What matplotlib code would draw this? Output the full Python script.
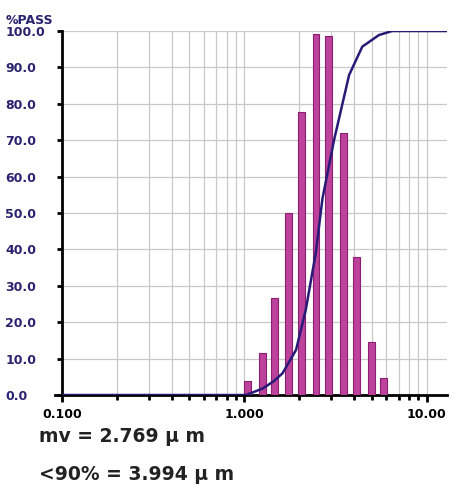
import numpy as np
import matplotlib
matplotlib.use('Agg')
import matplotlib.pyplot as plt
from matplotlib.ticker import FixedLocator, NullFormatter

# channel centres (um) and relative volume (% of max channel)
taille = [1.04, 1.25, 1.46, 1.75, 2.06, 2.47, 2.90, 3.50, 4.12, 4.95, 5.82]
volume = [3.9, 11.6, 26.6, 49.9, 77.7, 99.3, 98.6, 72.0, 37.8, 14.7, 4.6]

# cumulative % passing
taille_cum = [0.1, 1.02, 1.26, 1.45, 1.62, 1.92, 2.17, 2.46, 2.68, 3.10, 3.75, 4.43, 5.47, 6.46, 12.9]
passe_cum = [0.0, 0.0, 1.8, 3.8, 6.0, 12.4, 23.4, 38.9, 54.0, 70.0, 87.9, 95.7, 98.9, 100.0, 100.0]

etiquettes_y = ['0.0', '10.0', '20.0', '30.0', '40.0', '50.0', '60.0', '70.0', '80.0', '90.0', '100.0']

bleu = '#2b2170'
rose = '#bc429c'

fig = plt.figure(figsize=(4.57, 4.97), dpi=100)
ax = fig.add_axes([0.1357, 0.2052, 0.8423, 0.7324])
ax.set_xscale('log')
ax.set_xlim(0.1, 12.9)
ax.set_ylim(0, 100)

# bars with constant width in log space
demi = 0.019
gauche = [t * 10 ** (-demi) for t in taille]
largeur = [t * 10 ** demi - t * 10 ** (-demi) for t in taille]
ax.bar(gauche, volume, width=largeur, align='edge', color=rose,
       edgecolor='#8c1f72', linewidth=0.8, zorder=3)

ax.plot(taille_cum, passe_cum, color='#2a1a78', linewidth=1.8, zorder=4)

# grid
mineurs = [k * 10.0 ** e for e in (-1, 0) for k in range(2, 10)]
ax.xaxis.set_major_locator(FixedLocator([0.1, 1, 10]))
ax.xaxis.set_minor_locator(FixedLocator(mineurs))
ax.xaxis.set_minor_formatter(NullFormatter())
ax.set_xticklabels(['0.100', '1.000', '10.00'], fontweight='bold', fontsize=9)
ax.set_yticks(np.arange(0, 101, 10))
ax.set_yticklabels(etiquettes_y, fontweight='bold', fontsize=9, color=bleu,
                   ha='left')
ax.grid(True, which='both', axis='x', color='#c8c8c8', linewidth=0.9)
ax.grid(True, which='major', axis='y', color='#c8c8c8', linewidth=0.9)
ax.set_axisbelow(True)

for s in ('top', 'right'):
    ax.spines[s].set_visible(False)
ax.spines['left'].set_linewidth(2)
ax.spines['bottom'].set_linewidth(2)
ax.spines['bottom'].set_bounds(0.092, 12.9)
ax.tick_params(axis='x', which='major', length=5, width=2, pad=4)
ax.tick_params(axis='x', which='minor', length=3.5, width=2)
ax.tick_params(axis='y', length=3.6, width=2, pad=37.4)

fig.text(0.012, 0.952, '%PASS', fontweight='bold', fontsize=9, color=bleu)
fig.text(0.085, 0.11, 'mv = 2.769 \u00b5 m', fontweight='bold', fontsize=13.5, color='#222222')
fig.text(0.085, 0.035, '<90% = 3.994 \u00b5 m', fontweight='bold', fontsize=13.5, color='#222222')

fig.savefig('out.png', dpi=100)
